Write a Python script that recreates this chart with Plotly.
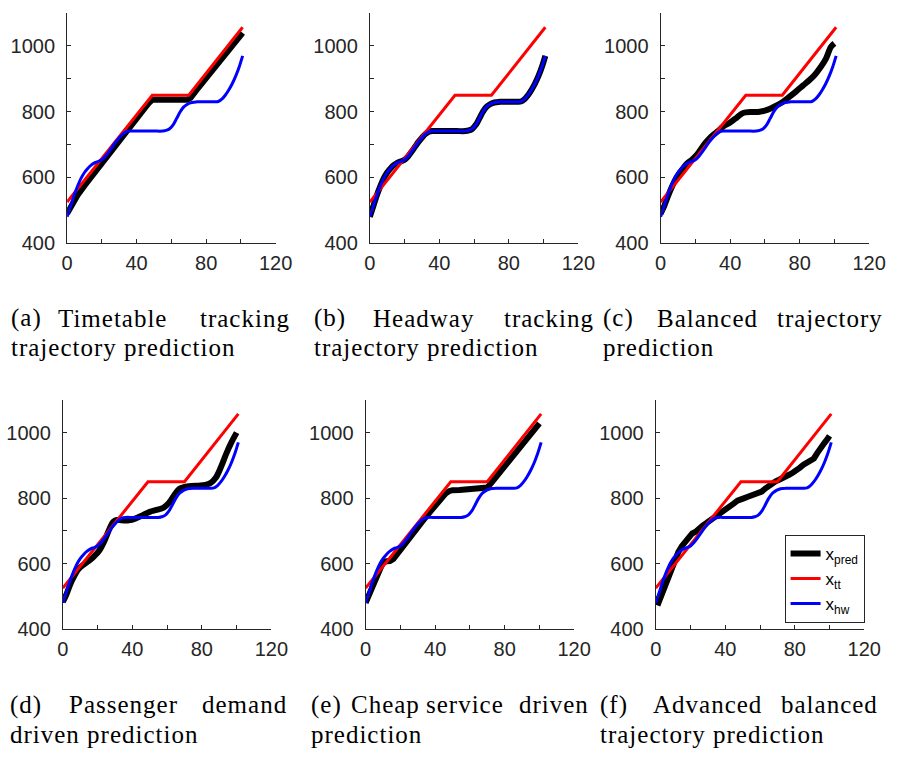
import plotly.graph_objects as go

# ---- data -------------------------------------------------------------
# timetable reference trajectory x_tt
t_tt = [0, 49, 70, 101]
x_tt = [525, 850, 850, 1057]

# headway reference trajectory x_hw
t_hw = [0, 2, 4, 6, 8, 10, 12, 14, 16, 18, 20, 22, 24, 26, 28, 30, 32, 34, 36, 40,
        45, 50, 55, 57, 59, 61, 63, 65, 67, 69, 71, 73, 75, 80, 85, 87, 89, 91, 93,
        95, 97, 99, 101]
x_hw = [480, 512, 545, 573, 597, 615, 628, 638, 645, 649, 654, 664, 678, 693, 708,
        721, 732, 739, 741, 741, 741, 741, 741, 743, 748, 760, 779, 799, 814, 822,
        827, 829, 830, 830, 830, 831, 838, 850, 866, 885, 908, 936, 970]

# predicted trajectories x_pred, one per strategy
t_pred_a = [0, 3, 6, 10, 15, 20, 25, 30, 35, 40, 45, 47, 49, 69, 71, 75, 80, 85, 90,
            95, 101]
x_pred_a = [490, 520, 546, 575, 610, 645, 680, 714, 748, 781, 813, 826, 836, 836,
            842, 869, 903, 936, 970, 1003, 1040]

t_pred_b = list(t_hw)
x_pred_b = list(x_hw)

t_pred_c = [0, 2, 5, 9, 12, 15, 18, 21, 25, 28, 30, 33, 36, 40, 44, 47, 49, 53, 57,
            60, 63, 66, 70, 74, 78, 82, 86, 89, 92, 95, 98, 100]
x_pred_c = [490, 512, 553, 598, 621, 641, 654, 670, 700, 718, 728, 741, 755, 767,
            783, 795, 798, 799, 800, 803, 809, 817, 829, 845, 862, 880, 898, 914,
            935, 960, 997, 1008]

t_pred_d = [0, 2, 5, 9, 12, 15, 18, 21, 24, 27, 29, 31, 34, 38, 42, 46, 50, 54, 58,
            61, 64, 67, 70, 74, 78, 82, 85, 88, 91, 94, 97, 100]
x_pred_d = [483, 505, 545, 583, 597, 608, 622, 640, 670, 708, 727, 733, 732, 732,
            738, 748, 758, 764, 771, 785, 808, 828, 834, 837, 838, 840, 846, 862,
            895, 935, 970, 1000]

t_pred_e = [0, 2, 4, 6, 8, 10, 12, 14, 16, 18, 21, 24, 27, 30, 33, 36, 40, 44, 46,
            48, 50, 54, 58, 62, 66, 70, 72, 75, 78, 81, 84, 87, 90, 93, 96, 98, 100]
x_pred_e = [480, 505, 530, 555, 582, 604, 607, 608, 614, 627, 646, 666, 688, 710,
            731, 751, 777, 802, 814, 821, 824, 825, 826, 827, 829, 832, 844, 864,
            884, 904, 925, 946, 966, 986, 1006, 1018, 1028]

t_pred_f = [1, 3, 5, 7, 9, 11, 13, 15, 17, 19, 21, 23, 25, 27, 29, 31, 33, 35, 37,
            39, 41, 43, 45, 47, 49, 51, 53, 55, 57, 59, 61, 63, 65, 67, 69, 71, 73,
            75, 77, 79, 81, 83, 85, 87, 89, 91, 93, 95, 97, 99, 100]
x_pred_f = [472, 500, 530, 560, 585, 612, 635, 653, 668, 680, 692, 697, 708, 716,
            723, 730, 738, 745, 752, 760, 766, 776, 784, 792, 798, 800, 804, 807,
            810, 814, 820, 829, 838, 846, 851, 856, 860, 866, 872, 878, 884, 893,
            902, 908, 913, 921, 938, 950, 968, 982, 990]

panels = [
    (t_pred_a, x_pred_a, "linear"),
    (t_pred_b, x_pred_b, "spline"),
    (t_pred_c, x_pred_c, "spline"),
    (t_pred_d, x_pred_d, "spline"),
    (t_pred_e, x_pred_e, "linear"),
    (t_pred_f, x_pred_f, "linear"),
]

x_ticks = [0, 40, 80, 120]
x_minor_ticks = [20, 60, 100]
y_ticks = [400, 600, 800, 1000]
y_minor_ticks = [500, 700, 900, 1100]

# sub-figure captions: first line justified word by word, second line ragged
captions = [
    [("(a)", 3, "left"), ("Timetable", 109, "center"), ("tracking", 293, "right")],
    [("(b)", 314, "left"), ("Headway", 428, "center"), ("tracking", 605, "right")],
    [("(c)", 611, "left"), ("Balanced", 720, "center"), ("trajectory", 902, "right")],
    [("(d)", 2, "left"), ("Passenger", 121, "center"), ("demand", 290, "right")],
    [("(e)", 311, "left"), ("Cheap", 389, "center"), ("service", 471, "center"),
     ("driven", 600, "right")],
    [("(f)", 607, "left"), ("Advanced", 720, "center"), ("balanced", 897, "right")],
]
second_lines = [
    ("trajectory prediction", 3),
    ("trajectory prediction", 314),
    ("prediction", 611),
    ("driven prediction", 2),
    ("prediction", 311),
    ("trajectory prediction", 607),
]

# ---- layout geometry (pixels) -----------------------------------------
W, H = 904, 761
plot_w = 214
rows = [(13.3, 246.7), (405.7, 638.3)]
lefts = [[62.7, 373.3, 671.7], [58.3, 369.0, 666.7]]
caption_base = [323, 715]


def fx(px):
    return px / W


def fy(py):
    return 1 - py / H


AX_COLOR = "#262626"
TICK_FONT = dict(family="Liberation Sans, Arial, sans-serif", size=20, color=AX_COLOR)

fig = go.Figure()
layout = {}

for i, (t_pred, x_pred, shape) in enumerate(panels):
    r, c = divmod(i, 3)
    n = i + 1
    xa = "x" if n == 1 else f"x{n}"
    ya = "y" if n == 1 else f"y{n}"
    show = i == 5
    fig.add_trace(go.Scatter(
        x=t_pred, y=x_pred, mode="lines", xaxis=xa, yaxis=ya,
        line=dict(color="black", width=6, shape=shape),
        name="x<sub>pred</sub>", showlegend=show))
    fig.add_trace(go.Scatter(
        x=t_tt, y=x_tt, mode="lines", xaxis=xa, yaxis=ya,
        line=dict(color="#ff0000", width=3),
        name="x<sub>tt</sub>", showlegend=show))
    fig.add_trace(go.Scatter(
        x=t_hw, y=x_hw, mode="lines", xaxis=xa, yaxis=ya,
        line=dict(color="#0000ff", width=3, shape="spline", smoothing=0.8),
        name="x<sub>hw</sub>", showlegend=show))

    top, bottom = rows[r]
    left = lefts[r][c]
    common = dict(showline=True, linecolor=AX_COLOR, linewidth=1, ticks="inside",
                  ticklen=4, tickcolor=AX_COLOR, tickwidth=1, showgrid=False,
                  zeroline=False, tickfont=TICK_FONT, fixedrange=True)
    minor_style = dict(ticks="inside", ticklen=4, tickcolor=AX_COLOR, tickwidth=1,
                       showgrid=False)
    layout["xaxis" if n == 1 else f"xaxis{n}"] = dict(
        domain=[fx(left), fx(left + plot_w)], anchor=ya, range=[0, 120],
        tickvals=x_ticks, ticktext=[str(v) for v in x_ticks], ticklabelstandoff=2,
        minor=dict(tickvals=x_minor_ticks, **minor_style), **common)
    layout["yaxis" if n == 1 else f"yaxis{n}"] = dict(
        domain=[fy(bottom), fy(top)], anchor=xa, range=[400, 1100],
        tickvals=y_ticks, ticktext=[str(v) for v in y_ticks], ticklabelstandoff=7,
        minor=dict(tickvals=y_minor_ticks, **minor_style), **common)

annotations = []
CAP_FONT = dict(family="Liberation Serif, Times New Roman, serif", size=25, color="black")


def spaced(s):
    return f'<span style="letter-spacing:1px">{s}</span>'


for i, words in enumerate(captions):
    r = i // 3
    y1 = caption_base[r]
    for word, xpos, anchor in words:
        annotations.append(dict(text=spaced(word), x=fx(xpos), y=fy(y1), xref="paper",
                                yref="paper", xanchor=anchor, yanchor="middle",
                                showarrow=False, font=CAP_FONT))
    text2, x2 = second_lines[i]
    annotations.append(dict(text=spaced(text2), x=fx(x2), y=fy(y1 + 30), xref="paper",
                            yref="paper", xanchor="left", yanchor="middle",
                            showarrow=False, font=CAP_FONT))

fig.update_layout(
    width=W, height=H, margin=dict(l=0, r=0, t=0, b=0),
    paper_bgcolor="white", plot_bgcolor="white",
    annotations=annotations,
    legend=dict(x=fx(881), y=fy(632), xanchor="right", yanchor="bottom",
                bgcolor="white", bordercolor=AX_COLOR, borderwidth=1,
                font=dict(family="Liberation Sans, Arial, sans-serif", size=17,
                          color="black"),
                tracegroupgap=0),
    **layout,
)

fig.write_html("out.html",
               post_script="document.body.style.margin='0';"
                           "document.body.style.overflow='hidden';")
